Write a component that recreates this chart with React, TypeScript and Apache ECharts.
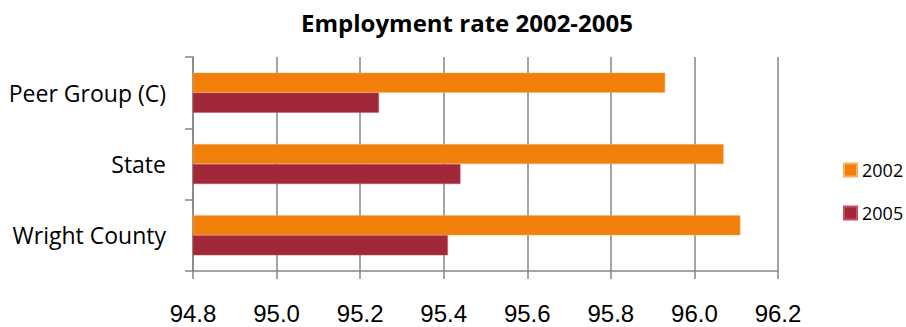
import React, { useEffect, useRef } from "react";
import * as echarts from "echarts";

const categories = ["Wright County", "State", "Peer Group (C)"];
const values2002 = [96.11, 96.07, 95.93];
const values2005 = [95.41, 95.44, 95.245];
const seriesNames = ["2002", "2005"];
const xMin = 94.8;
const xMax = 96.2;
const xStep = 0.2;

export default function App() {
  const ref = useRef<HTMLDivElement>(null);
  useEffect(() => {
    if (!ref.current) return;
    const chart = echarts.init(ref.current, undefined, { renderer: "svg" });
    chart.setOption({
      animation: false,
      backgroundColor: "#ffffff",
      title: {
        text: "Employment rate 2002-2005",
        left: 462,
        textAlign: "center",
        top: 5,
        textStyle: { fontFamily: "Open Sans", fontWeight: "bold", fontSize: 24, color: "#000" },
      },
      legend: {
        orient: "vertical",
        left: 838,
        top: 156,
        itemWidth: 13,
        itemHeight: 13,
        itemGap: 25,
        icon: "rect",
        data: seriesNames,
        textStyle: { fontFamily: "Open Sans", fontSize: 18, color: "#000" },
      },
      grid: { left: 193, right: 128, top: 57, bottom: 56, containLabel: false },
      xAxis: {
        type: "value",
        min: xMin,
        max: xMax,
        interval: xStep,
        axisLine: { show: true, lineStyle: { color: "#868686", width: 1.5 } },
        axisTick: { show: true, length: 8, inside: false, lineStyle: { color: "#868686", width: 1.5 } },
        splitLine: { show: true, lineStyle: { color: "#868686", width: 1.5 } },
        axisLabel: {
          formatter: (v: number) => v.toFixed(1),
          fontFamily: "Liberation Sans, Arial, sans-serif",
          fontSize: 24,
          color: "#000",
          margin: 30,
        },
      },
      yAxis: {
        type: "category",
        data: categories,
        axisLine: { show: true, lineStyle: { color: "#868686", width: 1.5 } },
        axisTick: { show: true, length: 8, lineStyle: { color: "#868686", width: 1.5 } },
        axisLabel: { fontFamily: "Open Sans", fontSize: 23, color: "#000", margin: 27 },
      },
      series: [
        {
          name: seriesNames[0],
          type: "bar",
          data: values2002,
          barWidth: 20,
          barGap: "0%",
          itemStyle: { color: "#F0800A", borderColor: "#f8b060", borderWidth: 0.5 },
        },
        {
          name: seriesNames[1],
          type: "bar",
          data: values2005,
          barWidth: 20,
          barGap: "0%",
          itemStyle: { color: "#A12838", borderColor: "#c85060", borderWidth: 0.5 },
        },
      ],
    });
    return () => chart.dispose();
  }, []);
  return <div ref={ref} style={{ width: 906, height: 327, position: "absolute", left: 0, top: 0 }} />;
}
